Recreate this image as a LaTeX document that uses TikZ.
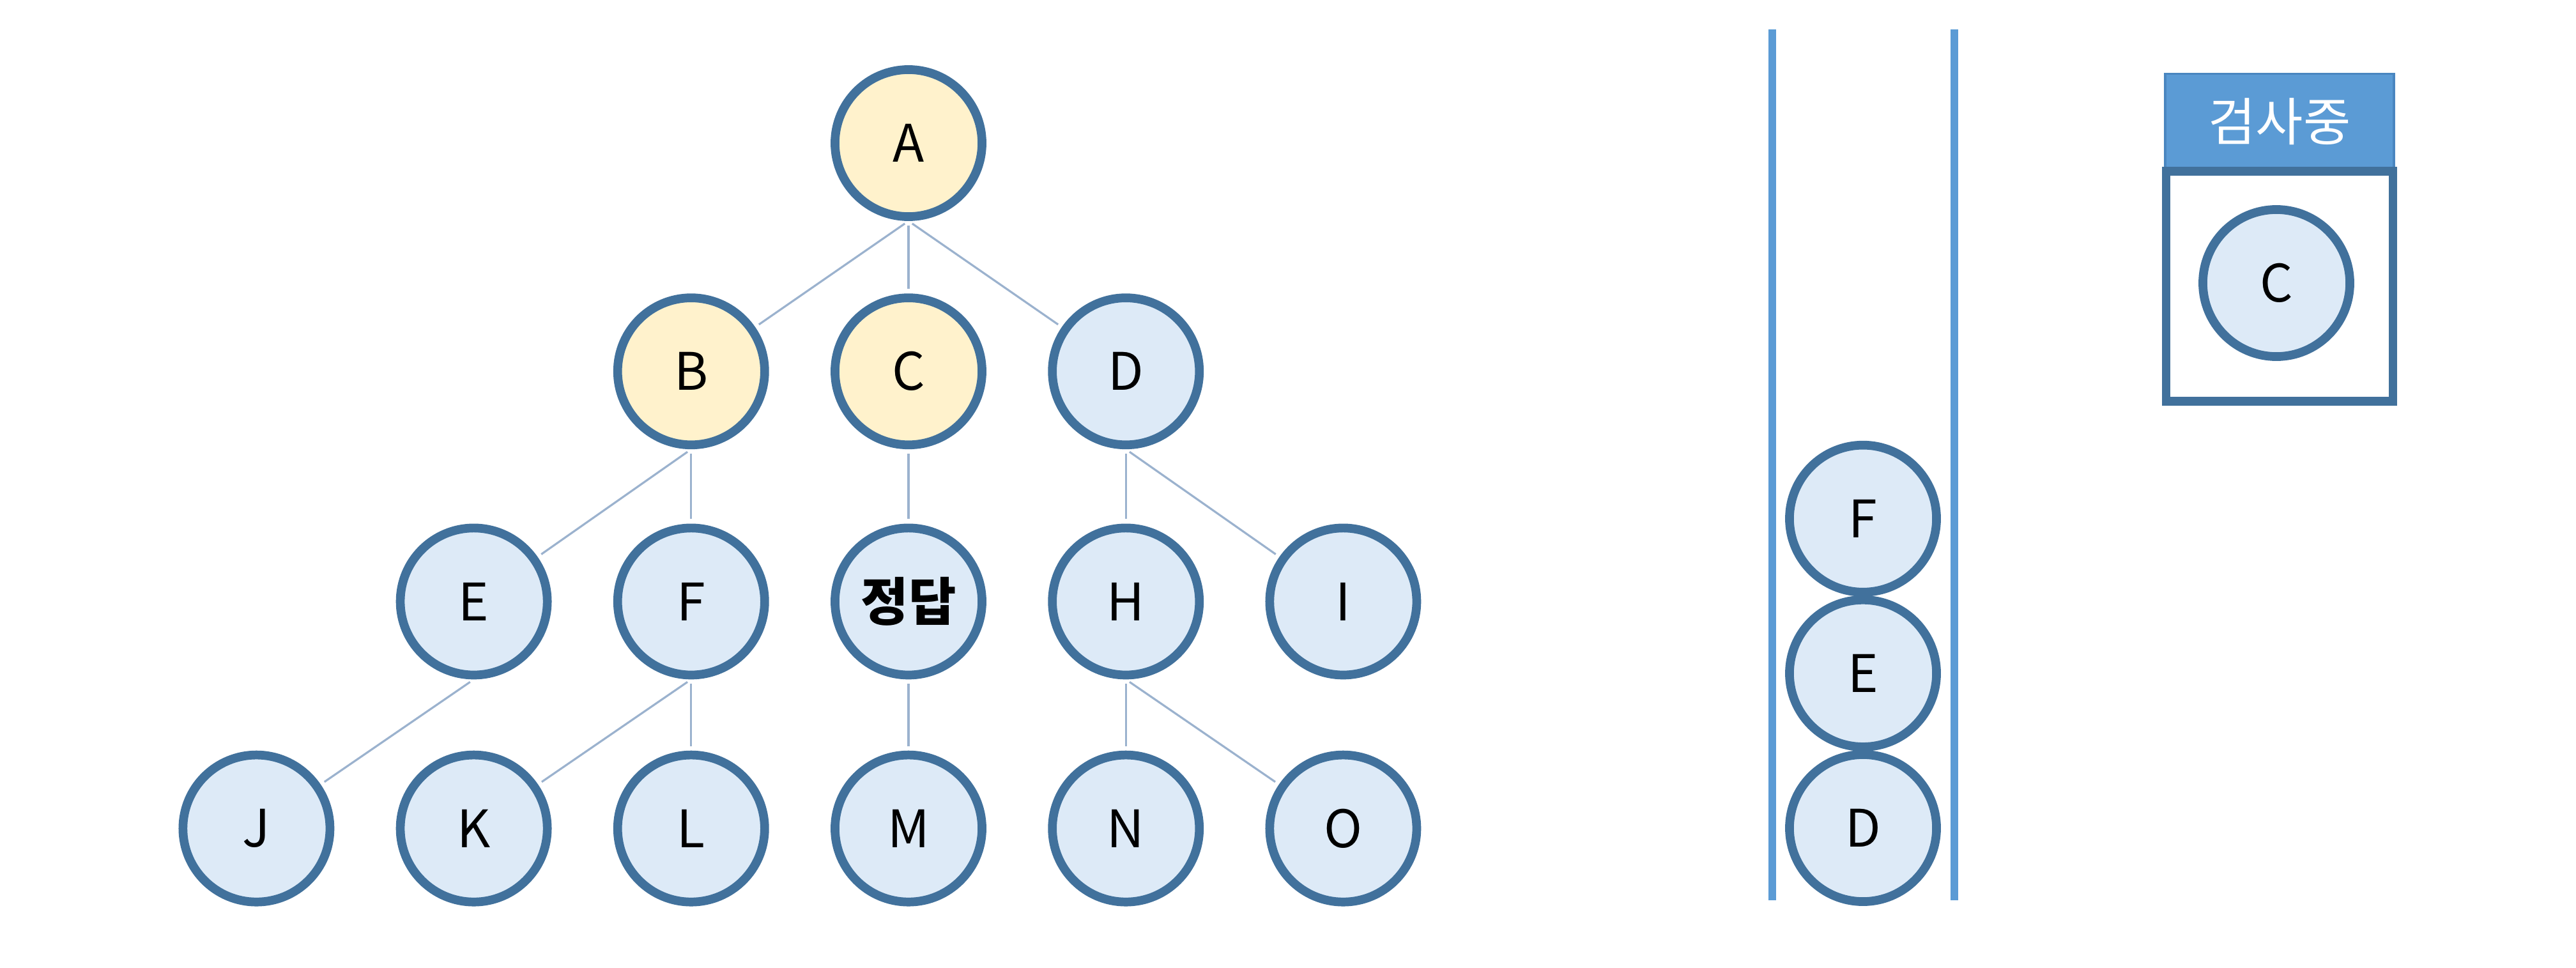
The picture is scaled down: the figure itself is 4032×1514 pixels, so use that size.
\documentclass[tikz,border=0pt]{standalone}
\usepackage{fontspec}
\setmainfont{Noto Sans CJK KR}

\definecolor{ringblue}{HTML}{41719C}
\definecolor{paleblue}{HTML}{DDEAF7}
\definecolor{paleyellow}{HTML}{FFF2CC}
\definecolor{linkgray}{HTML}{9BB2CE}
\definecolor{wallblue}{HTML}{5B9BD5}
\definecolor{hdrblue}{HTML}{4A86C0}

\begin{document}
\begin{tikzpicture}[x=0.01cm,y=-0.01cm,
	vtx/.style={circle,draw=ringblue,line width=3.9pt,fill=paleblue,minimum size=2.3cm,inner sep=0pt,font=\fontsize{23}{27}\selectfont},
	seen/.style={vtx,fill=paleyellow},
	link/.style={draw=linkgray,line width=0.9pt,shorten <=2pt,shorten >=2pt},
	wall/.style={draw=wallblue,line width=3.4pt},
	hdr/.style={rectangle,fill=wallblue,draw=hdrblue,line width=1pt,minimum width=3.58cm,minimum height=1.49cm,text=white,font=\fontsize{23}{27}\selectfont},
	tray/.style={rectangle,draw=ringblue,line width=3.9pt,fill=white,minimum width=3.55cm,minimum height=3.6cm}]

	\path[use as bounding box,fill=white] (0,0) rectangle (4032,1514);

	% tree
	\node[seen] (A) at (1422,224) {A};
	\node[seen] (C) [below of=A, node distance=3.57cm] {C};
	\node[seen] (B) [left of=C, node distance=3.4cm] {B};
	\node[vtx] (D) [right of=C, node distance=3.4cm] {D};

	\node[vtx] (F) [below of=B, node distance=3.6cm] {F};
	\node[vtx] (E) [left of=F, node distance=3.4cm] {E};
	\node[vtx] (ans) [below of=C, node distance=3.6cm] {\bfseries 정답};
	\node[vtx] (H) [below of=D, node distance=3.6cm] {H};
	\node[vtx] (I) [right of=H, node distance=3.4cm] {I};

	\node[vtx] (K) [below of=E, node distance=3.55cm] {K};
	\node[vtx] (J) [left of=K, node distance=3.4cm] {J};
	\node[vtx] (L) [below of=F, node distance=3.55cm] {L};
	\node[vtx] (M) [below of=ans, node distance=3.55cm] {M};
	\node[vtx] (N) [below of=H, node distance=3.55cm] {N};
	\node[vtx] (O) [below of=I, node distance=3.55cm] {O};

	\path[link] (A.south) edge (B) edge (C) edge (D);
	\path[link] (B.south) edge (E) edge (F);
	\path[link] (C.south) edge (ans);
	\path[link] (D.south) edge (H) edge (I);
	\path[link] (E.south) edge (J);
	\path[link] (F.south) edge (K) edge (L);
	\path[link] (ans.south) edge (M);
	\path[link] (H.south) edge (N) edge (O);

	% stack
	\draw[wall] (2774,46) -- (2774,1409);
	\draw[wall] (3059,46) -- (3059,1409);
	\node[vtx] (sD) at (2916,1296) {D};
	\node[vtx] (sE) [above of=sD, node distance=2.42cm] {E};
	\node[vtx] (sF) [above of=sE, node distance=2.42cm] {F};

	% current
	\node[hdr] (busy) at (3568,190) {검사중};
	\node[tray] (box) [below of=busy, node distance=2.58cm] {};
	\node[vtx] (cur) at (3563,443) {C};

\end{tikzpicture}
\end{document}
